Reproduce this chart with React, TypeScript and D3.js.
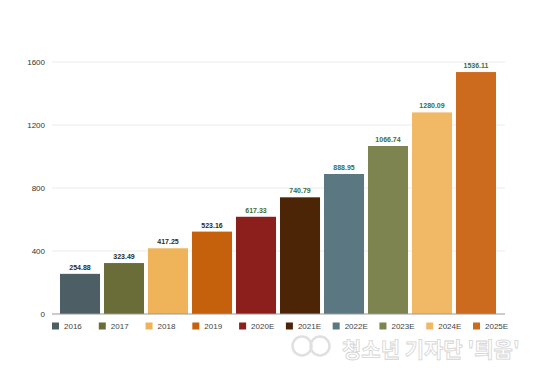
import React from "react";
import * as d3 from "d3";

const categories = ["2016", "2017", "2018", "2019", "2020E", "2021E", "2022E", "2023E", "2024E", "2025E"];
const values = [254.88, 323.49, 417.25, 523.16, 617.33, 740.79, 888.95, 1066.74, 1280.09, 1536.11];
const colors = ["#4d5e64", "#6a6d38", "#efb459", "#c5600c", "#8c1f1b", "#4c2406", "#5b7882", "#7e8450", "#f1b865", "#cc6a1e"];
const yTicks = [0, 400, 800, 1200, 1600];
const watermark = "청소년 기자단 '틔움'";

const W = 554;
const H = 377;

export default function App() {
  const y = d3.scaleLinear().domain([0, 1600]).range([314, 62]);
  const x = d3.scaleBand<string>().domain(categories).range([58, 498]).paddingInner(0.09).paddingOuter(0.045);
  const legendX = d3.scalePoint<string>().domain(categories).range([52, 473]);
  const font = "'Liberation Sans', Arial, Helvetica, sans-serif";

  return (
    <svg width={W} height={H} style={{ position: "absolute", left: 0, top: 0, background: "#fff" }} fontFamily={font}>
      <rect x={0} y={0} width={W} height={H} fill="#fff" />
      {yTicks.map((t) => (
        <g key={t}>
          {t !== 0 && <line x1={52} x2={505} y1={y(t)} y2={y(t)} stroke="#ebebeb" strokeWidth={1} />}
          <text x={45} y={y(t)} dy="0.35em" textAnchor="end" fontSize={8} fill="#333">
            {t}
          </text>
        </g>
      ))}
      {categories.map((c, i) => (
        <g key={c}>
          <rect x={x(c)} y={y(values[i])} width={x.bandwidth()} height={y(0) - y(values[i])} fill={colors[i]} />
          <text
            x={(x(c) as number) + x.bandwidth() / 2}
            y={y(values[i]) - 4}
            textAnchor="middle"
            fontSize={7}
            fontWeight="bold"
            fill={i < 4 ? "#2a2a2a" : "#3d6e3a"}
          >
            {values[i].toFixed(2)}
          </text>
        </g>
      ))}
      <line x1={52} x2={505} y1={y(0)} y2={y(0)} stroke="#9a9a9a" strokeWidth={1.2} />
      {categories.map((c, i) => (
        <g key={"lg" + c} transform={`translate(${legendX(c)},326)`}>
          <rect x={0} y={-3.5} width={7} height={7} fill={colors[i]} />
          <text x={12} y={0} dy="0.35em" fontSize={8} fill="#444">
            {c}
          </text>
        </g>
      ))}
      <g opacity={0.9}>
        <circle cx={302} cy={346} r={9.5} fill="none" stroke="#ddd" strokeWidth={2.5} />
        <circle cx={320} cy={346} r={9.5} fill="none" stroke="#ddd" strokeWidth={2.5} />
        <text
          x={342}
          y={357}
          fontSize={21}
          fontWeight="bold"
          fill="#fff"
          stroke="#d0d0d0"
          strokeWidth={0.8}
          fontFamily="'Noto Sans CJK KR', sans-serif"
        >
          {watermark}
        </text>
      </g>
    </svg>
  );
}
